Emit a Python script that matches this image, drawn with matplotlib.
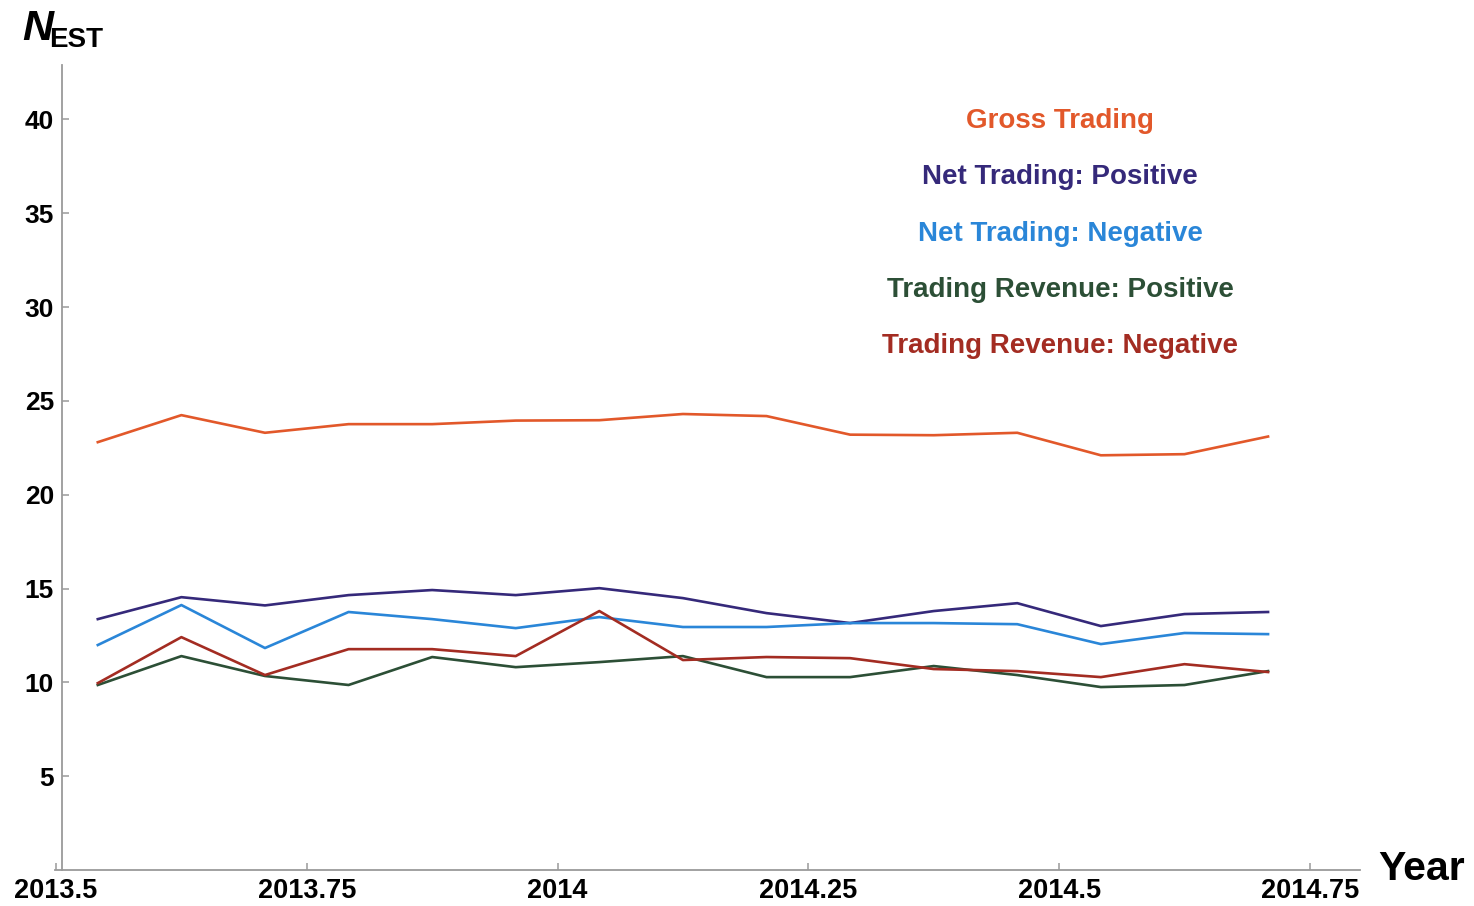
import matplotlib
matplotlib.use('Agg')
import matplotlib.pyplot as plt
import numpy as np

plt.rcParams['font.family'] = ['Liberation Sans', 'DejaVu Sans']
plt.rcParams['font.weight'] = 'bold'

# monthly mid-points, Jul 2013 .. Sep 2014
months = np.arange(6, 21)
years = 2013 + (months + 0.5) / 12

gross = [22.8, 24.24, 23.3, 23.76, 23.76, 23.95, 23.97, 24.3, 24.19, 23.2, 23.17, 23.3, 22.1, 22.16, 23.1]
net_pos = [13.37, 14.54, 14.1, 14.65, 14.92, 14.65, 15.02, 14.49, 13.69, 13.16, 13.8, 14.22, 13.0, 13.64, 13.75]
net_neg = [11.99, 14.12, 11.83, 13.75, 13.37, 12.89, 13.48, 12.95, 12.95, 13.16, 13.16, 13.1, 12.04, 12.63, 12.57]
rev_pos = [9.86, 11.4, 10.34, 9.86, 11.35, 10.81, 11.08, 11.4, 10.28, 10.28, 10.87, 10.39, 9.75, 9.86, 10.6]
rev_neg = [9.96, 12.41, 10.39, 11.77, 11.77, 11.4, 13.8, 11.19, 11.35, 11.29, 10.71, 10.6, 10.28, 10.97, 10.55]

labels = ['Gross Trading', 'Net Trading: Positive', 'Net Trading: Negative',
          'Trading Revenue: Positive', 'Trading Revenue: Negative']
colors = ['#E2582A', '#35297A', '#2A86D8', '#2C4F36', '#A32C22']
series = [gross, net_pos, net_neg, rev_pos, rev_neg]

x_ticks = [2013.5, 2013.75, 2014, 2014.25, 2014.5, 2014.75]
x_ticklabels = ['2013.5', '2013.75', '2014', '2014.25', '2014.5', '2014.75']
y_ticks = [5, 10, 15, 20, 25, 30, 35, 40]

fig = plt.figure(figsize=(14.74, 9.06), dpi=100)
ax = fig.add_axes([55 / 1474, 0.0397, 1305 / 1474, 0.8886])

for s, c in zip(series, colors):
    ax.plot(years, s, color=c, lw=1.9)

ax.set_xlim(2013.499, 2014.8)
ax.set_ylim(0, 42.9)
ax.set_xticks(x_ticks)
ax.set_xticklabels(x_ticklabels)
ax.set_yticks(y_ticks)

for sp in ['top', 'right']:
    ax.spines[sp].set_visible(False)
for sp in ['left', 'bottom']:
    ax.spines[sp].set_color('#9a9a9a')
    ax.spines[sp].set_linewidth(1.3)
# y axis crosses a little to the right of the first x tick
ax.spines['left'].set_position(('data', 2013.5055))

ax.tick_params(direction='in', length=5, width=1.1, color='#9a9a9a', pad=5.5)
ax.tick_params(axis='x', labelsize=19.5)
ax.tick_params(axis='y', labelsize=19)
for t in ax.get_xticklabels() + ax.get_yticklabels():
    t.set_fontweight('bold')

# legend as stacked coloured text
for i, (lab, c) in enumerate(zip(labels, colors)):
    fig.text(1060 / 1474, 1 - (121 + 56.3 * i) / 906, lab, color=c,
             fontsize=20, fontweight='bold', ha='center', va='center')

# axis labels
fig.text(22 / 1474, 1 - 40 / 906, 'N', fontsize=31, fontweight='bold',
         style='italic', ha='left', va='baseline')
fig.text(49 / 1474, 1 - 47 / 906, 'EST', fontsize=20, fontweight='bold',
         ha='left', va='baseline')
fig.text(1378 / 1474, 1 - 880 / 906, 'Year', fontsize=29.5, fontweight='bold',
         ha='left', va='baseline')

fig.savefig('out.png', dpi=100)
